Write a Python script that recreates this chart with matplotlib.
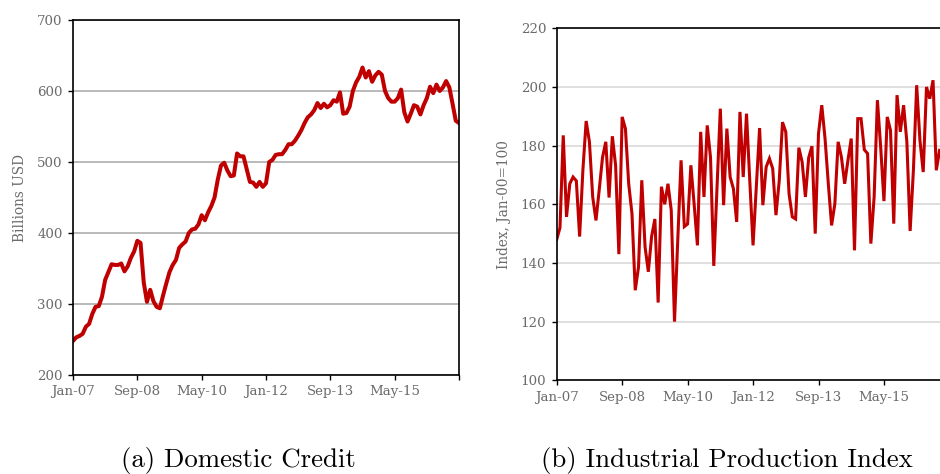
import numpy as np
import matplotlib
matplotlib.use("Agg")
import matplotlib.pyplot as plt

# monthly series starting Jan-07 (month index 0)
credit = [248, 253, 255, 258, 268, 272, 286, 296, 297, 310,
          334, 345, 356, 355, 355, 357, 346, 353, 365, 374,
          389, 386, 330, 303, 320, 304, 296, 294, 312, 329,
          345, 355, 362, 379, 384, 388, 400, 405, 406, 412,
          425, 418, 429, 438, 450, 475, 495, 499, 488, 480,
          481, 512, 508, 508, 490, 472, 471, 465, 472, 465,
          470, 500, 503, 510, 511, 511, 517, 525, 525, 530,
          537, 545, 555, 563, 567, 573, 583, 576, 582, 577,
          580, 587, 585, 598, 568, 569, 578, 600, 612, 620,
          633, 619, 628, 613, 622, 627, 623, 600, 590, 585,
          585, 590, 602, 570, 557, 568, 580, 578, 567, 580,
          590, 606, 597, 609, 600, 605, 614, 605, 582, 558,
          555]

ipi = [148, 152, 183.5, 155.7, 167, 169.3, 168, 149, 171.6, 188.4,
       181.3, 162.5, 154.5, 165, 176, 181.3, 162.3, 183.2, 173.3, 143,
       189.8, 185.8, 167, 156.8, 130.7, 138.6, 168.2, 145.5, 137, 149,
       155, 126.5, 166, 160, 167, 158, 120, 148, 175, 152.4,
       153.3, 173.3, 160, 146, 184.7, 162.5, 186.9, 176, 139, 166,
       192.6, 159.7, 185.8, 169.3, 165.3, 154, 191.5, 169.3, 190.9, 168,
       146, 166, 186, 159.7, 172.7, 175.6, 172.2, 156.3, 168, 188,
       184.7, 163.6, 155.7, 155, 179.3, 174.4, 162.5, 175.9, 179.8, 150,
       184.1, 193.8, 182.4, 167, 152.8, 160.2, 181.3, 176.1, 167, 175,
       182.4, 144.3, 189.2, 189.2, 178.6, 177.3, 146.6, 162.5, 195.5, 179.5,
       161.1, 189.8, 185.2, 153.4, 197.2, 184.7, 193.8, 181.3, 150.9, 171.6,
       200.6, 181.8, 171, 200, 196, 202.3, 171.6, 178.4]

tick_months = [0, 20, 40, 60, 80, 100, 120]
tick_labels = ["Jan-07", "Sep-08", "May-10", "Jan-12", "Sep-13", "May-15", ""]

red = "#c00000"
txt_grey = "#6b6b6b"
W, H = 940, 474

fig = plt.figure(figsize=(W / 100, H / 100), dpi=100)


def style(ax, ylim, yticks, grid_col, ylabel):
    ax.set_xlim(0, 120)
    ax.set_ylim(*ylim)
    ax.set_xticks(tick_months)
    ax.set_xticklabels(tick_labels)
    ax.set_yticks(yticks)
    ax.grid(axis="y", color=grid_col, linewidth=1.3, zorder=0)
    ax.set_axisbelow(True)
    for s in ax.spines.values():
        s.set_linewidth(1.2)
        s.set_color("black")
    ax.tick_params(direction="out", length=3.5, width=1.0, colors="black",
                   labelcolor=txt_grey, labelsize=9.6, pad=4)
    for lab in ax.get_xticklabels() + ax.get_yticklabels():
        lab.set_family("DejaVu Serif")
    ax.set_ylabel(ylabel, family="DejaVu Serif", size=9.8, color=txt_grey,
                  labelpad=7)


# (a) domestic credit
ax1 = fig.add_axes([73 / W, 1 - 375 / H, (459 - 73) / W, (375 - 20) / H])
ax1.plot(range(len(credit)), credit, color=red, lw=2.9, solid_joinstyle="round")
style(ax1, (200, 700), range(200, 701, 100), "#b4b4b4", "Billions USD")

# (b) industrial production (axes runs past the right edge of the figure)
ax2 = fig.add_axes([556.7 / W, 1 - 380.3 / H, (949.4 - 556.7) / W, (380.3 - 28.3) / H])
ax2.plot(range(len(ipi)), ipi, color=red, lw=2.2, solid_joinstyle="miter")
style(ax2, (100, 220), range(100, 221, 20), "#dcdcdc", "Index, Jan-00=100")

fig.text(238 / W, 1 - 461 / H, "(a) Domestic Credit", family="cmr10",
         size=19.3, ha="center", va="center")
fig.text(727 / W, 1 - 461 / H, "(b) Industrial Production Index", family="cmr10",
         size=19.3, ha="center", va="center")

fig.savefig("out.png", dpi=100)
